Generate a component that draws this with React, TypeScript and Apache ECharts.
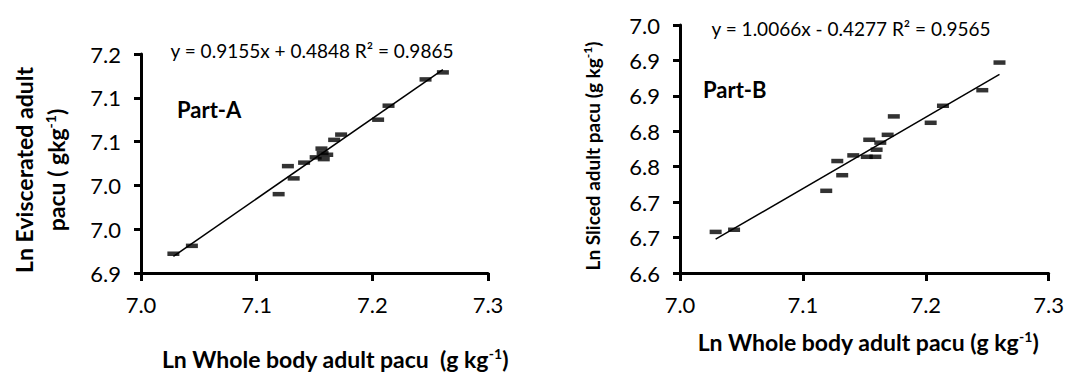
import React, { useEffect, useRef } from "react";
import * as echarts from "echarts";

// Panel A: Ln whole body vs Ln eviscerated
const xWholeA = [7.028, 7.044, 7.119, 7.127, 7.132, 7.141, 7.151, 7.156, 7.157, 7.158, 7.161, 7.167, 7.173, 7.205, 7.214, 7.246, 7.261];
const yEviscA = [6.922, 6.931, 6.990, 7.022, 7.008, 7.026, 7.032, 7.042, 7.037, 7.030, 7.035, 7.052, 7.058, 7.075, 7.091, 7.121, 7.129];

// Panel B: Ln whole body vs Ln sliced
const xWholeB = [7.029, 7.044, 7.119, 7.128, 7.132, 7.141, 7.152, 7.154, 7.159, 7.160, 7.163, 7.169, 7.174, 7.204, 7.214, 7.246, 7.260];
const ySlicedB = [6.658, 6.661, 6.716, 6.758, 6.738, 6.766, 6.764, 6.788, 6.764, 6.774, 6.784, 6.795, 6.821, 6.812, 6.836, 6.858, 6.897];

const xTickLabels = ["7.0", "7.1", "7.2", "7.3"];
const yTickLabelsA = ["6.9", "7.0", "7.0", "7.1", "7.1", "7.2"];
const yTickLabelsB = ["6.6", "6.7", "6.7", "6.8", "6.8", "6.9", "6.9", "7.0"];

const trendA = { slope: 0.9155, intercept: 0.4848, eq: "y = 0.9155x + 0.4848 R² = 0.9865" };
const trendB = { slope: 1.0066, intercept: -0.4277, eq: "y = 1.0066x - 0.4277 R² = 0.9565" };

const FONT = "Lato";

function trendPoints(xs: number[], t: { slope: number; intercept: number }) {
  const lo = Math.min(...xs);
  const hi = Math.max(...xs);
  return [
    [lo, t.slope * lo + t.intercept],
    [hi, t.slope * hi + t.intercept],
  ];
}

function xAxisCfg(gridIndex: number) {
  return {
    gridIndex,
    type: "value",
    min: 7.0,
    max: 7.3,
    interval: 0.1,
    axisLine: { show: true, onZero: false, lineStyle: { color: "#000", width: 3 } },
    axisTick: { show: true, length: 8, lineStyle: { color: "#000", width: 3 } },
    splitLine: { show: false },
    axisLabel: {
      formatter: (v: number) => xTickLabels[Math.round((v - 7.0) / 0.1)] ?? "",
      fontSize: 22,
      fontFamily: FONT,
      color: "#000",
      margin: 20,
    },
  };
}

function yAxisCfg(gridIndex: number, min: number, max: number, labels: string[]) {
  return {
    gridIndex,
    type: "value",
    min,
    max,
    interval: 0.05,
    axisLine: { show: true, onZero: false, lineStyle: { color: "#000", width: 3 } },
    axisTick: { show: true, length: 7, lineStyle: { color: "#000", width: 3 } },
    splitLine: { show: false },
    axisLabel: {
      formatter: (v: number) => labels[Math.round((v - min) / 0.05)] ?? "",
      fontSize: 22,
      fontFamily: FONT,
      color: "#000",
      margin: 20,
    },
  };
}

function supText(base: string, sup: string, tail: string, size: number, supSize: number) {
  return {
    text: `{a|${base}}{s|${sup}}{a|${tail}}`,
    rich: {
      a: { font: `bold ${size}px ${FONT}`, fill: "#000", lineHeight: size + 2 },
      s: { font: `bold ${supSize}px ${FONT}`, fill: "#000", lineHeight: supSize + 2, verticalAlign: "top" },
    },
  };
}

export default function App() {
  const ref = useRef<HTMLDivElement>(null);

  useEffect(() => {
    if (!ref.current) return;
    const chart = echarts.init(ref.current, undefined, { renderer: "svg" });

    const option: any = {
      animation: false,
      backgroundColor: "#fff",
      grid: [
        { left: 141, top: 54, width: 347, height: 219 },
        { left: 680, top: 25, width: 370, height: 248 },
      ],
      xAxis: [xAxisCfg(0), xAxisCfg(1)],
      yAxis: [
        yAxisCfg(0, 6.9, 7.15, yTickLabelsA),
        yAxisCfg(1, 6.6, 6.95, yTickLabelsB),
      ],
      series: [
        {
          type: "line",
          xAxisIndex: 0,
          yAxisIndex: 0,
          data: trendPoints(xWholeA, trendA),
          showSymbol: false,
          lineStyle: { color: "#000", width: 1.5 },
          silent: true,
        },
        {
          type: "scatter",
          xAxisIndex: 0,
          yAxisIndex: 0,
          data: xWholeA.map((x, i) => [x, yEviscA[i]]),
          symbol: "rect",
          symbolSize: [12, 4.5],
          itemStyle: { color: "#000" },
        },
        {
          type: "line",
          xAxisIndex: 1,
          yAxisIndex: 1,
          data: trendPoints(xWholeB, trendB),
          showSymbol: false,
          lineStyle: { color: "#000", width: 1.5 },
          silent: true,
        },
        {
          type: "scatter",
          xAxisIndex: 1,
          yAxisIndex: 1,
          data: xWholeB.map((x, i) => [x, ySlicedB[i]]),
          symbol: "rect",
          symbolSize: [12, 4.5],
          itemStyle: { color: "#000" },
        },
      ],
      graphic: [
        // Panel A texts
        {
          type: "text",
          x: 312,
          y: 50,
          style: { text: trendA.eq, font: `19px ${FONT}`, fill: "#000", textAlign: "center", textVerticalAlign: "middle" },
        },
        {
          type: "text",
          x: 177,
          y: 109,
          style: { text: "Part-A", font: `bold 22px ${FONT}`, fill: "#000", textAlign: "left", textVerticalAlign: "middle" },
        },
        {
          type: "text",
          x: 24,
          y: 170,
          rotation: Math.PI / 2,
          style: { text: "Ln Eviscerated adult", font: `bold 23px ${FONT}`, fill: "#000", textAlign: "center", textVerticalAlign: "middle" },
        },
        {
          type: "text",
          x: 56,
          y: 170,
          rotation: Math.PI / 2,
          style: { ...supText("pacu ( gkg", "-1", ")", 23, 14), fill: "#000", textAlign: "center", textVerticalAlign: "middle" },
        },
        {
          type: "text",
          x: 335,
          y: 359,
          style: { ...supText("Ln Whole body adult pacu  (g kg", "-1", ")", 23, 14), fill: "#000", textAlign: "center", textVerticalAlign: "middle" },
        },
        // Panel B texts
        {
          type: "text",
          x: 851,
          y: 28,
          style: { text: trendB.eq, font: `19px ${FONT}`, fill: "#000", textAlign: "center", textVerticalAlign: "middle" },
        },
        {
          type: "text",
          x: 703,
          y: 89,
          style: { text: "Part-B", font: `bold 22px ${FONT}`, fill: "#000", textAlign: "left", textVerticalAlign: "middle" },
        },
        {
          type: "text",
          x: 592,
          y: 156,
          rotation: Math.PI / 2,
          style: { ...supText("Ln Sliced adult pacu (g kg", "-1", ")", 19, 12), fill: "#000", textAlign: "center", textVerticalAlign: "middle" },
        },
        {
          type: "text",
          x: 868,
          y: 342,
          style: { ...supText("Ln Whole body adult pacu (g kg", "-1", ")", 23, 14), fill: "#000", textAlign: "center", textVerticalAlign: "middle" },
        },
      ],
    };

    chart.setOption(option);
    return () => chart.dispose();
  }, []);

  return (
    <div
      ref={ref}
      style={{ position: "absolute", left: 0, top: 0, width: 1067, height: 372, background: "#fff" }}
    />
  );
}
